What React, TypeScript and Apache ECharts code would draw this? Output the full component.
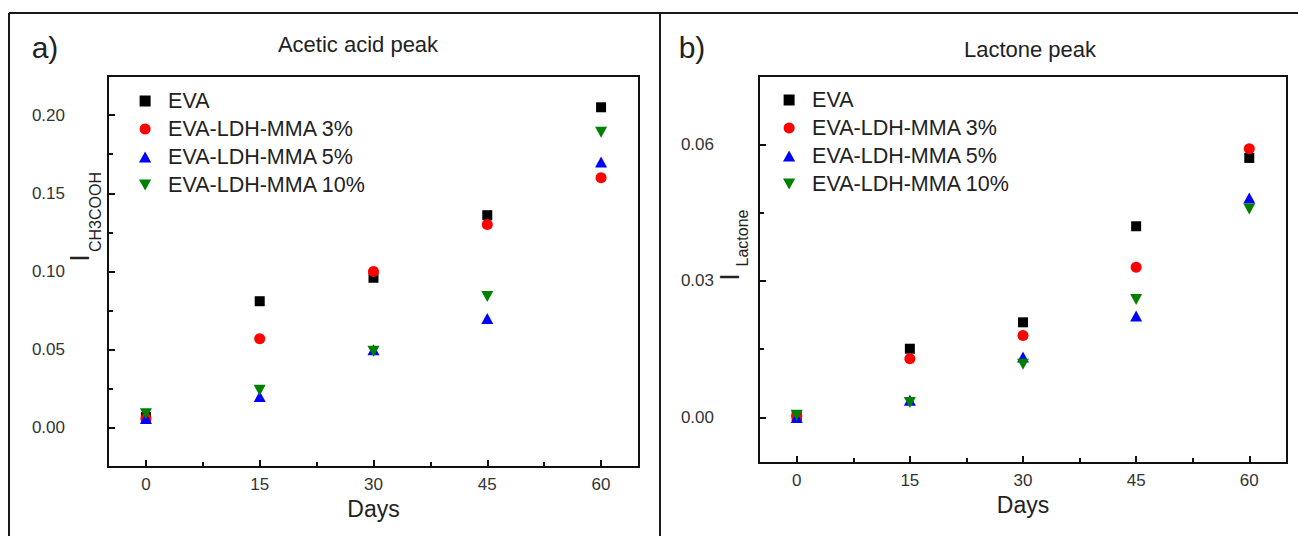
import React, { useEffect, useRef } from "react";
import * as echarts from "echarts";

// ---------- data ----------
const days = [0, 15, 30, 45, 60];
const seriesNames = ["EVA", "EVA-LDH-MMA 3%", "EVA-LDH-MMA 5%", "EVA-LDH-MMA 10%"];

const aceticEVA = [0.007, 0.081, 0.096, 0.136, 0.205];
const acetic3 = [0.006, 0.057, 0.1, 0.13, 0.16];
const acetic5 = [0.006, 0.02, 0.05, 0.07, 0.17];
const acetic10 = [0.009, 0.024, 0.049, 0.084, 0.189];

const lactoneEVA = [0.0003, 0.0151, 0.0209, 0.042, 0.057];
const lactone3 = [0.0003, 0.0129, 0.018, 0.033, 0.059];
const lactone5 = [0.0, 0.0038, 0.0133, 0.0223, 0.0482];
const lactone10 = [0.0005, 0.0033, 0.0117, 0.0259, 0.0458];

const xMajorTicks = [0, 15, 30, 45, 60];
const xMinorTicks = [7.5, 22.5, 37.5, 52.5];
const aceticMajorTicks = [0, 0.05, 0.1, 0.15, 0.2];
const aceticMinorTicks = [0.025, 0.075, 0.125, 0.175];
const lactoneMajorTicks = [0, 0.03, 0.06];
const lactoneMinorTicks = [0.015, 0.045];

const FONT = "'Liberation Sans', Arial, sans-serif";

const markers = [
  { symbol: "path://M0,0L10,0L10,10L0,10Z", size: 10, color: "#000000" },
  { symbol: "circle", size: 11, color: "#ff0000" },
  { symbol: "path://M5,0L10,9L0,9Z", size: [12, 11], color: "#0000ff" },
  { symbol: "path://M0,0L10,0L5,9Z", size: [12, 11], color: "#008000" },
];

function makeXAxes(gridIndex: number, nameGap: number) {
  return [
    {
      type: "value",
      gridIndex,
      position: "bottom",
      min: -5,
      max: 65,
      name: "Days",
      nameLocation: "middle",
      nameGap,
      nameTextStyle: { fontFamily: FONT, fontSize: 23, color: "#222" },
      axisLine: { show: true, onZero: false, lineStyle: { color: "#111", width: 2 } },
      axisTick: { show: true, inside: true, length: 7, customValues: xMajorTicks, lineStyle: { color: "#111", width: 2 } },
      axisLabel: { show: true, customValues: xMajorTicks, margin: 9, fontFamily: FONT, fontSize: 17, color: "#333" },
      splitLine: { show: false },
    },
    {
      type: "value",
      gridIndex,
      position: "bottom",
      offset: 0,
      min: -5,
      max: 65,
      axisLine: { show: false, onZero: false },
      axisTick: { show: true, inside: true, length: 5, customValues: xMinorTicks, lineStyle: { color: "#111", width: 2 } },
      axisLabel: { show: false },
      splitLine: { show: false },
    },
  ];
}

function makeYAxes(gridIndex: number, min: number, max: number, major: number[], minor: number[], margin: number) {
  return [
    {
      type: "value",
      gridIndex,
      position: "left",
      min,
      max,
      axisLine: { show: true, onZero: false, lineStyle: { color: "#111", width: 2 } },
      axisTick: { show: true, inside: true, length: 7, customValues: major, lineStyle: { color: "#111", width: 2 } },
      axisLabel: {
        show: true,
        customValues: major,
        margin,
        fontFamily: FONT,
        fontSize: 17,
        color: "#333",
        formatter: (v: number) => v.toFixed(2),
      },
      splitLine: { show: false },
    },
    {
      type: "value",
      gridIndex,
      position: "left",
      offset: 0,
      min,
      max,
      axisLine: { show: false, onZero: false },
      axisTick: { show: true, inside: true, length: 5, customValues: minor, lineStyle: { color: "#111", width: 2 } },
      axisLabel: { show: false },
      splitLine: { show: false },
    },
  ];
}

function makeSeries(values: number[][], axisIndex: number) {
  return values.map((vals, i) => ({
    type: "scatter",
    name: seriesNames[i],
    xAxisIndex: axisIndex,
    yAxisIndex: axisIndex,
    symbol: markers[i].symbol,
    symbolSize: markers[i].size,
    itemStyle: { color: markers[i].color, opacity: 1 },
    data: days.map((d, j) => [d, vals[j]]),
    z: 3 + i,
  }));
}

function txt(text: string, x: number, y: number, fontSize: number, extra: any = {}) {
  return {
    type: "text",
    x,
    y,
    silent: true,
    ...extra,
    style: {
      text,
      fontFamily: FONT,
      fontSize,
      fill: "#222",
      align: "center",
      verticalAlign: "middle",
      textAlign: "center",
      textVerticalAlign: "middle",
      ...(extra.style || {}),
    },
  };
}

function line(x1: number, y1: number, x2: number, y2: number) {
  return {
    type: "line",
    silent: true,
    shape: { x1, y1, x2, y2 },
    style: { stroke: "#1a1a1a", lineWidth: 2 },
  };
}

export default function App() {
  const ref = useRef<HTMLDivElement>(null);

  useEffect(() => {
    if (!ref.current) return;
    const chart = echarts.init(ref.current, undefined, { renderer: "svg" });
    const legendCommon = {
      data: seriesNames,
      orient: "vertical",
      padding: 0,
      itemWidth: 36,
      itemHeight: 11,
      itemGap: 6,
      selectedMode: false,
      textStyle: { fontFamily: FONT, fontSize: 21.5, lineHeight: 20, color: "#222" },
    };
    const option: any = {
      animation: false,
      backgroundColor: "#ffffff",
      grid: [
        { left: 108, top: 76, width: 531, height: 391, show: true, borderColor: "#111", borderWidth: 2, backgroundColor: "transparent", outerBoundsMode: "none", containLabel: false },
        { left: 759, top: 76, width: 528, height: 387, show: true, borderColor: "#111", borderWidth: 2, backgroundColor: "transparent", outerBoundsMode: "none", containLabel: false },
      ],
      xAxis: [...makeXAxes(0, 30), ...makeXAxes(1, 29)],
      yAxis: [
        ...makeYAxes(0, -0.025, 0.225, aceticMajorTicks, aceticMinorTicks, 43),
        ...makeYAxes(1, -0.01, 0.075, lactoneMajorTicks, lactoneMinorTicks, 45),
      ],
      legend: [
        { ...legendCommon, left: 139, top: 90 },
        { ...legendCommon, left: 783, top: 89 },
      ],
      series: [
        ...makeSeries([aceticEVA, acetic3, acetic5, acetic10], 0),
        ...makeSeries([lactoneEVA, lactone3, lactone5, lactone10], 2),
      ],
      graphic: [
        line(9, 13, 1298, 13),
        line(9, 13, 9, 536),
        line(660, 13, 660, 536),
        txt("a)", 45, 47, 30),
        txt("b)", 692, 47, 30),
        txt("Acetic acid peak", 358, 44, 22),
        txt("Lactone peak", 1030, 49, 22),
        txt("I", 80, 258, 27, { rotation: Math.PI / 2 }),
        txt("CH3COOH", 95, 212, 16, { rotation: Math.PI / 2 }),
        txt("I", 730, 277, 27, { rotation: Math.PI / 2 }),
        txt("Lactone", 742, 238, 16, { rotation: Math.PI / 2 }),
      ],
    };
    chart.setOption(option);
    return () => chart.dispose();
  }, []);

  return (
    <div
      ref={ref}
      style={{ position: "absolute", left: 0, top: 0, width: 1298, height: 536, background: "#fff" }}
    />
  );
}
